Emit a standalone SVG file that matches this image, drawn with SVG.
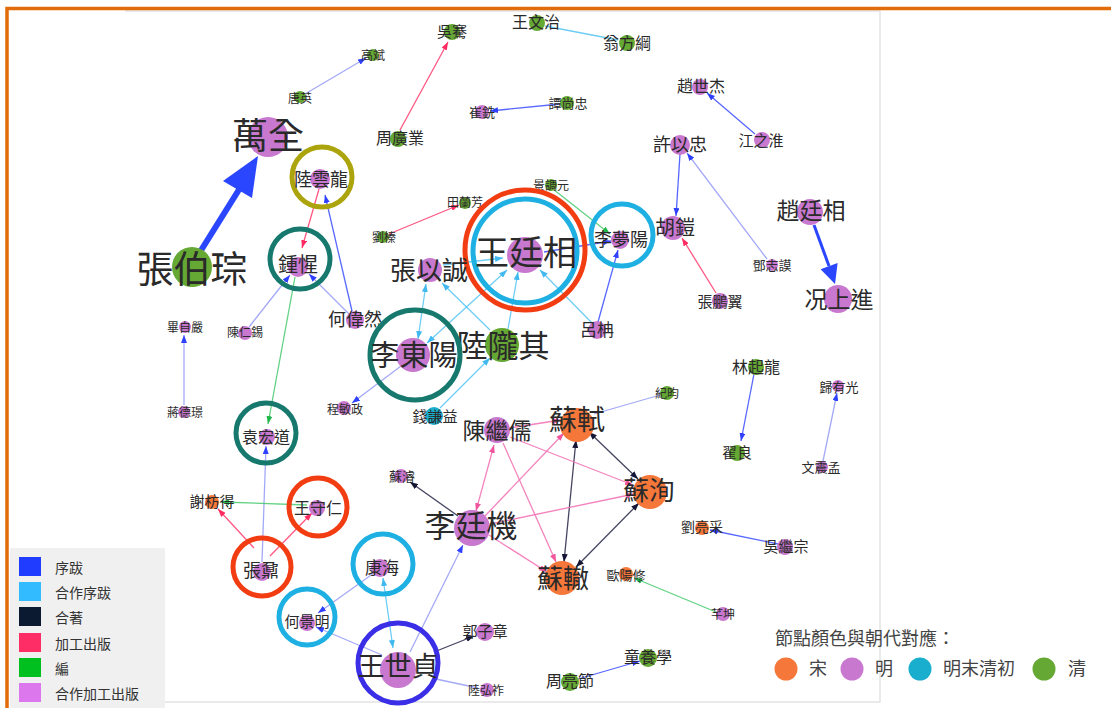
<svg xmlns="http://www.w3.org/2000/svg" width="1111" height="708" viewBox="0 0 1111 708">
<style>
text{font-family:"Noto Sans CJK TC","Noto Sans CJK SC",sans-serif;fill:#2a2a2a;text-anchor:middle;dominant-baseline:central}
.song{fill:#f5773a}.ming{fill:#c878cf}.mq{fill:#19aecd}.qing{fill:#66a834}
.ring{fill:none;stroke-width:5}
.e{fill:none;stroke-width:1.3}
.b{stroke:#3a4cff;stroke-opacity:.85}
.bl{stroke:#5a62f0;stroke-opacity:.55}
.c{stroke:#55c4f5;stroke-opacity:.85}
.d{stroke:#252545;stroke-opacity:.85}
.r{stroke:#ff3a6c;stroke-opacity:.85}
.g{stroke:#2ec25a;stroke-opacity:.75}
.p{stroke:#f274b6;stroke-opacity:.9}
.leg{font-size:14px;text-anchor:start;fill:#333}
</style>
<defs>
<marker id="mb" markerWidth="8" markerHeight="6" refX="8" refY="3" orient="auto-start-reverse" markerUnits="userSpaceOnUse"><path d="M0,0L8,3L0,6z" fill="#3040ff"/></marker>
<marker id="mc" markerWidth="8" markerHeight="6" refX="8" refY="3" orient="auto-start-reverse" markerUnits="userSpaceOnUse"><path d="M0,0L8,3L0,6z" fill="#40b8f0"/></marker>
<marker id="md" markerWidth="8" markerHeight="6" refX="8" refY="3" orient="auto-start-reverse" markerUnits="userSpaceOnUse"><path d="M0,0L8,3L0,6z" fill="#151535"/></marker>
<marker id="mr" markerWidth="8" markerHeight="6" refX="8" refY="3" orient="auto-start-reverse" markerUnits="userSpaceOnUse"><path d="M0,0L8,3L0,6z" fill="#ff2a60"/></marker>
<marker id="mg" markerWidth="8" markerHeight="6" refX="8" refY="3" orient="auto-start-reverse" markerUnits="userSpaceOnUse"><path d="M0,0L8,3L0,6z" fill="#20b84a"/></marker>
<marker id="mp" markerWidth="8" markerHeight="6" refX="8" refY="3" orient="auto-start-reverse" markerUnits="userSpaceOnUse"><path d="M0,0L8,3L0,6z" fill="#f0559e"/></marker>
</defs>
<rect width="1111" height="708" fill="#ffffff"/>
<!-- canvas frame -->
<path d="M125,11H880V702H125" fill="none" stroke="#e4e4e4" stroke-width="1.5"/>
<!-- outer orange frame -->
<path d="M7,708V8.5H1111" fill="none" stroke="#e36c0a" stroke-width="3.5"/>

<g id="connectors">
<!-- special thick arrows -->
<line x1="200" y1="252" x2="240" y2="188" stroke="#2a46ff" stroke-width="6"/>
<polygon points="258,156 223,181 252,198" fill="#2a46ff"/>
<line x1="814" y1="225" x2="829" y2="266" stroke="#2a46ff" stroke-width="3"/>
<polygon points="835,284 820.6,269.3 837.6,263.1" fill="#2a46ff"/>
<!-- 序跋 -->
<line class="e bl" x1="305" y1="94" x2="366" y2="58" marker-end="url(#mb)"/>
<line class="e b" x1="560" y1="104" x2="490" y2="111" marker-end="url(#mb)"/>
<line class="e b" x1="755" y1="134" x2="707" y2="93" marker-end="url(#mb)"/>
<line class="e b" x1="680" y1="154" x2="676" y2="216" marker-end="url(#mb)"/>
<line class="e bl" x1="767" y1="259" x2="687" y2="153" marker-end="url(#mb)"/>
<line class="e b" x1="754" y1="374" x2="741" y2="441" marker-end="url(#mb)"/>
<line class="e bl" x1="823" y1="461" x2="837" y2="393" marker-end="url(#mb)"/>
<line class="e b" x1="778" y1="544" x2="710" y2="530" marker-end="url(#mb)"/>
<line class="e b" x1="578" y1="679" x2="640" y2="661" marker-end="url(#mb)"/>
<line class="e bl" x1="262" y1="562" x2="266" y2="446" marker-end="url(#mb)"/>
<line class="e bl" x1="249" y1="327" x2="290" y2="275" marker-end="url(#mb)"/>
<line class="e bl" x1="349" y1="314" x2="309" y2="274" marker-end="url(#mb)"/>
<line class="e b" x1="352" y1="311" x2="325" y2="195" marker-end="url(#mb)"/>
<line class="e bl" x1="184" y1="405" x2="184" y2="335" marker-end="url(#mb)"/>
<line class="e bl" x1="405" y1="363" x2="352" y2="403" marker-end="url(#mb)"/>
<line class="e b" x1="544" y1="252" x2="611" y2="241" marker-end="url(#mb)"/>
<line class="e b" x1="598" y1="322" x2="618" y2="250" marker-end="url(#mb)"/>
<line class="e bl" x1="410" y1="652" x2="463" y2="545" marker-end="url(#mb)"/>
<line class="e bl" x1="382" y1="655" x2="316" y2="627" marker-end="url(#mb)"/>
<line class="e bl" x1="374" y1="573" x2="318" y2="613" marker-end="url(#mb)"/>
<line class="e bl" x1="436" y1="679" x2="478" y2="688"/>
<line class="e bl" x1="660" y1="395" x2="594" y2="414"/>
<!-- 合作序跋 -->
<line class="e c" x1="545" y1="26" x2="618" y2="40"/>
<line class="e c" x1="592" y1="323" x2="540" y2="270" marker-end="url(#mc)"/>
<line class="e c" x1="508" y1="329" x2="518" y2="272" marker-end="url(#mc)"/>
<line class="e c" x1="427" y1="343" x2="507" y2="270" marker-start="url(#mc)" marker-end="url(#mc)"/>
<line class="e c" x1="443" y1="265" x2="503" y2="258" marker-end="url(#mc)"/>
<line class="e c" x1="426" y1="284" x2="418" y2="339" marker-start="url(#mc)" marker-end="url(#mc)"/>
<line class="e c" x1="490" y1="330" x2="442" y2="283" marker-end="url(#mc)"/>
<line class="e c" x1="440" y1="408" x2="490" y2="358" marker-end="url(#mc)"/>
<line class="e c" x1="383" y1="578" x2="393" y2="648" marker-start="url(#mc)" marker-end="url(#mc)"/>
<!-- 合著 -->
<line class="e d" x1="434" y1="652" x2="474" y2="636" marker-end="url(#md)"/>
<line class="e d" x1="458" y1="516" x2="410" y2="482" marker-end="url(#md)"/>
<line class="e d" x1="576" y1="440" x2="564" y2="562" marker-start="url(#md)" marker-end="url(#md)"/>
<line class="e d" x1="589" y1="432" x2="638" y2="479" marker-start="url(#md)" marker-end="url(#md)"/>
<line class="e d" x1="576" y1="567" x2="639" y2="503" marker-start="url(#md)" marker-end="url(#md)"/>
<!-- 加工出版 -->
<line class="e r" x1="400" y1="130" x2="448" y2="42" marker-end="url(#mr)"/>
<line class="e r" x1="716" y1="293" x2="682" y2="238" marker-end="url(#mr)"/>
<line class="e r" x1="319" y1="189" x2="302" y2="248" marker-end="url(#mr)"/>
<line class="e r" x1="389" y1="234" x2="459" y2="205" marker-end="url(#mr)"/>
<line class="e r" x1="254" y1="548" x2="218" y2="509" marker-end="url(#mr)"/>
<line class="e r" x1="270" y1="556" x2="312" y2="513" marker-end="url(#mr)"/>
<!-- 編 -->
<line class="e g" x1="553" y1="189" x2="610" y2="234" marker-end="url(#mg)"/>
<line class="e g" x1="295" y1="277" x2="268" y2="424" marker-end="url(#mg)"/>
<line class="e g" x1="307" y1="505" x2="221" y2="502" marker-end="url(#mg)"/>
<line class="e g" x1="716" y1="612" x2="634" y2="578" marker-end="url(#mg)"/>
<!-- 合作加工出版 -->
<line class="e p" x1="509" y1="428" x2="561" y2="420" marker-end="url(#mp)"/>
<line class="e p" x1="510" y1="437" x2="633" y2="485" marker-end="url(#mp)"/>
<line class="e p" x1="503" y1="443" x2="556" y2="562" marker-end="url(#mp)"/>
<line class="e p" x1="494" y1="445" x2="476" y2="511" marker-start="url(#mp)" marker-end="url(#mp)"/>
<line class="e p" x1="485" y1="516" x2="564" y2="433" marker-end="url(#mp)"/>
<line class="e p" x1="490" y1="524" x2="634" y2="494" marker-end="url(#mp)"/>
<line class="e p" x1="489" y1="535" x2="547" y2="572" marker-end="url(#mp)"/>
</g>

<g id="n-wanquan"><circle class="ming" cx="268" cy="137" r="20"/><text x="268" y="133" font-size="36">萬全</text></g>
<g id="n-zhangbocong"><circle class="qing" cx="192" cy="267" r="20"/><text x="192" y="267" font-size="37">張伯琮</text></g>
<g id="n-luyunlong"><circle class="ring" cx="322" cy="177" r="30" stroke="#aca40c"/><circle class="ming" cx="320" cy="179" r="10"/><text x="321" y="178" font-size="18">陸雲龍</text></g>
<g id="n-zhongxing"><circle class="ring" cx="300" cy="259" r="30" stroke="#17796e"/><circle class="ming" cx="298" cy="267" r="10"/><text x="298" y="263" font-size="20">鍾惺</text></g>
<g id="n-heweiran"><circle class="ming" cx="355" cy="320" r="9"/><text x="355" y="318" font-size="18">何偉然</text></g>
<g id="n-chenrenxi"><circle class="ming" cx="245" cy="333" r="7"/><text x="245" y="331" font-size="12">陳仁錫</text></g>
<g id="n-bizyan"><circle class="ming" cx="185" cy="327" r="6"/><text x="185" y="326" font-size="12">畢自嚴</text></g>
<g id="n-jiangdejing"><circle class="ming" cx="184" cy="412" r="6"/><text x="185" y="411" font-size="12">蔣德璟</text></g>
<g id="n-liuzhen"><circle class="qing" cx="383" cy="237" r="6"/><text x="384" y="236" font-size="12">劉榛</text></g>
<g id="n-tianlanfang"><circle class="qing" cx="465" cy="203" r="6"/><text x="465" y="201" font-size="12">田蘭芳</text></g>
<g id="n-jingtiaoyuan"><circle class="qing" cx="551" cy="185" r="6"/><text x="551" y="184" font-size="12">景調元</text></g>
<g id="n-gaobin"><circle class="qing" cx="373" cy="55" r="6"/><text x="373" y="54" font-size="12">高斌</text></g>
<g id="n-tangying"><circle class="qing" cx="300" cy="97" r="6"/><text x="300" y="97" font-size="12">唐英</text></g>
<g id="n-zhouguangye"><circle class="qing" cx="398" cy="139" r="8"/><text x="400" y="137" font-size="16">周廣業</text></g>
<g id="n-wuqian"><circle class="qing" cx="452" cy="32" r="8"/><text x="452" y="30" font-size="15">吳騫</text></g>
<g id="n-wangwenzhi"><circle class="qing" cx="537" cy="23" r="8"/><text x="536" y="21" font-size="16">王文治</text></g>
<g id="n-wengfanggang"><circle class="qing" cx="627" cy="43" r="8"/><text x="627" y="42" font-size="16">翁方綱</text></g>
<g id="n-cuixian"><circle class="ming" cx="482" cy="112" r="7"/><text x="482" y="111" font-size="13">崔銑</text></g>
<g id="n-tanshangzhong"><circle class="qing" cx="567" cy="103" r="7"/><text x="568" y="102" font-size="13">譚尚忠</text></g>
<g id="n-zhaoshijie"><circle class="ming" cx="700" cy="87" r="8"/><text x="701" y="85" font-size="16">趙世杰</text></g>
<g id="n-jiangzhihuai"><circle class="ming" cx="762" cy="140" r="8"/><text x="761" y="139" font-size="15">江之淮</text></g>
<g id="n-xuyizhong"><circle class="ming" cx="680" cy="145" r="10"/><text x="680" y="143" font-size="18">許以忠</text></g>
<g id="n-hukai"><circle class="ming" cx="673" cy="228" r="12"/><text x="675" y="226" font-size="20">胡鎧</text></g>
<g id="n-dengzhimo"><circle class="ming" cx="772" cy="265" r="6"/><text x="772" y="264" font-size="13">鄧志謨</text></g>
<g id="n-zhangpengyi"><circle class="ming" cx="720" cy="301" r="8"/><text x="720" y="300" font-size="15">張鵬翼</text></g>
<g id="n-zhaotingxiang"><circle class="ming" cx="810" cy="212" r="13"/><text x="811" y="209" font-size="23">趙廷相</text></g>
<g id="n-kuangshangjin"><circle class="ming" cx="838" cy="299" r="14"/><text x="839" y="298" font-size="23">况上進</text></g>
<g id="n-wangtingxiang"><circle class="ring" cx="525" cy="250" r="60" stroke="#f23c12"/><circle class="ring" cx="525" cy="251" r="52" stroke="#1eb0e2" stroke-width="5.5"/><circle class="ming" cx="525" cy="255" r="18"/><text x="526" y="250" font-size="34">王廷相</text></g>
<g id="n-limengyang"><circle class="ring" cx="622" cy="235" r="31" stroke="#1eb0e2"/><circle class="ming" cx="620" cy="240" r="9"/><text x="621" y="238" font-size="18">李夢陽</text></g>
<g id="n-zhangyicheng"><circle class="ming" cx="430" cy="270" r="12"/><text x="429" y="268" font-size="26">張以誠</text></g>
<g id="n-longqi"><circle class="qing" cx="502" cy="345" r="17"/><text x="503" y="343" font-size="31">陸隴其</text></g>
<g id="n-lidongyang"><circle class="ring" cx="415" cy="355" r="45" stroke="#17796e"/><circle class="ming" cx="413" cy="355" r="17"/><text x="414" y="353" font-size="29">李東陽</text></g>
<g id="n-lvnan"><circle class="ming" cx="597" cy="330" r="9"/><text x="597" y="328" font-size="17">呂柟</text></g>
<g id="n-qianqianyi"><circle class="mq" cx="434" cy="416" r="9"/><text x="435" y="415" font-size="15">錢謙益</text></g>
<g id="n-chengminzheng"><circle class="ming" cx="344" cy="408" r="7"/><text x="345" y="408" font-size="12">程敏政</text></g>
<g id="n-linqilong"><circle class="qing" cx="756" cy="367" r="8"/><text x="756" y="366" font-size="16">林起龍</text></g>
<g id="n-diliang"><circle class="qing" cx="737" cy="453" r="8"/><text x="737" y="451" font-size="15">翟良</text></g>
<g id="n-guiyouguang"><circle class="ming" cx="838" cy="386" r="6"/><text x="839" y="386" font-size="13">歸有光</text></g>
<g id="n-wenzhenmeng"><circle class="ming" cx="822" cy="467" r="6"/><text x="821" y="466" font-size="13">文震孟</text></g>
<g id="n-jiyun"><circle class="qing" cx="667" cy="393" r="7"/><text x="667" y="392" font-size="12">紀昀</text></g>
<g id="n-sushi"><circle class="song" cx="577" cy="425" r="17"/><text x="577" y="418" font-size="28">蘇軾</text></g>
<g id="n-chenjiru"><circle class="ming" cx="497" cy="430" r="13"/><text x="497" y="429" font-size="23">陳繼儒</text></g>
<g id="n-suxun"><circle class="song" cx="650" cy="492" r="17"/><text x="649" y="488" font-size="26">蘇洵</text></g>
<g id="n-litingji"><circle class="ming" cx="472" cy="528" r="18"/><text x="471" y="523" font-size="31">李廷機</text></g>
<g id="n-sujun"><circle class="ming" cx="401" cy="476" r="7"/><text x="402" y="475" font-size="13">蘇濬</text></g>
<g id="n-suzhe"><circle class="song" cx="562" cy="578" r="17"/><text x="563" y="576" font-size="26">蘇轍</text></g>
<g id="n-ouyangxiu"><circle class="song" cx="626" cy="574" r="7"/><text x="626" y="574" font-size="13">歐陽修</text></g>
<g id="n-liuliangcai"><circle class="song" cx="702" cy="528" r="7"/><text x="702" y="526" font-size="14">劉亮采</text></g>
<g id="n-wujizong"><circle class="ming" cx="785" cy="547" r="8"/><text x="786" y="545" font-size="15">吳繼宗</text></g>
<g id="n-qiankun"><circle class="ming" cx="723" cy="614" r="7"/><text x="723" y="613" font-size="12">芊坤</text></g>
<g id="n-yuanhongdao"><circle class="ring" cx="266" cy="433" r="30" stroke="#17796e"/><circle class="ming" cx="267" cy="437" r="8"/><text x="266" y="436" font-size="16">袁宏道</text></g>
<g id="n-xiefangde"><circle class="song" cx="212" cy="502" r="7"/><text x="212" y="500" font-size="15">謝枋得</text></g>
<g id="n-wangshouren"><circle class="ring" cx="318" cy="507" r="29" stroke="#f23c12"/><circle class="ming" cx="317" cy="508" r="8"/><text x="318" y="507" font-size="16">王守仁</text></g>
<g id="n-zhangnai"><circle class="ring" cx="262" cy="567" r="29" stroke="#f23c12"/><circle class="ming" cx="262" cy="572" r="9"/><text x="261" y="569" font-size="18">張鼐</text></g>
<g id="n-kanghai"><circle class="ring" cx="383" cy="564" r="30" stroke="#1eb0e2"/><circle class="ming" cx="380" cy="568" r="9"/><text x="382" y="566" font-size="17">康海</text></g>
<g id="n-hejingming"><circle class="ring" cx="307" cy="617" r="28" stroke="#1eb0e2"/><circle class="ming" cx="307" cy="623" r="8"/><text x="307" y="620" font-size="15">何景明</text></g>
<g id="n-wangshizhen"><circle class="ring" cx="398" cy="663" r="40" stroke="#3a2ee6" stroke-width="6"/><circle class="ming" cx="398" cy="670" r="18"/><text x="398" y="664" font-size="27">王世貞</text></g>
<g id="n-guozizhang"><circle class="ming" cx="485" cy="632" r="9"/><text x="485" y="630" font-size="15">郭子章</text></g>
<g id="n-luhongzuo"><circle class="ming" cx="487" cy="690" r="7"/><text x="486" y="689" font-size="12">陸弘祚</text></g>
<g id="n-zhouliangjie"><circle class="qing" cx="570" cy="682" r="9"/><text x="570" y="680" font-size="16">周亮節</text></g>
<g id="n-tongyangxue"><circle class="qing" cx="648" cy="658" r="9"/><text x="648" y="656" font-size="16">童養學</text></g>

<g id="legend-edges">
<rect x="10" y="548" width="155" height="160" fill="#f0f0f0"/>
<rect x="19" y="557" width="22" height="19" fill="#1f3cff"/>
<rect x="19" y="582" width="22" height="19" fill="#33bbff"/>
<rect x="19" y="607" width="22" height="19" fill="#0b1a30"/>
<rect x="19" y="633" width="22" height="19" fill="#ff2d66"/>
<rect x="19" y="658" width="22" height="19" fill="#00c020"/>
<rect x="19" y="683" width="22" height="19" fill="#dd77ee"/>
<text class="leg" x="55" y="567">序跋</text>
<text class="leg" x="55" y="592">合作序跋</text>
<text class="leg" x="55" y="617">合著</text>
<text class="leg" x="55" y="643">加工出版</text>
<text class="leg" x="55" y="668">編</text>
<text class="leg" x="55" y="693">合作加工出版</text>
</g>
<g id="legend-nodes">
<text x="775" y="637" font-size="18" style="text-anchor:start;fill:#444">節點顏色與朝代對應：</text>
<circle class="song" cx="786" cy="669" r="11.5"/><text x="809" y="667" font-size="18" style="text-anchor:start;fill:#444">宋</text>
<circle class="ming" cx="852" cy="669" r="11.5"/><text x="875" y="667" font-size="18" style="text-anchor:start;fill:#444">明</text>
<circle class="mq" cx="920" cy="669" r="11.5"/><text x="943" y="667" font-size="18" style="text-anchor:start;fill:#444">明末清初</text>
<circle class="qing" cx="1044" cy="669" r="11.5"/><text x="1068" y="667" font-size="18" style="text-anchor:start;fill:#444">清</text>
</g>
</svg>
